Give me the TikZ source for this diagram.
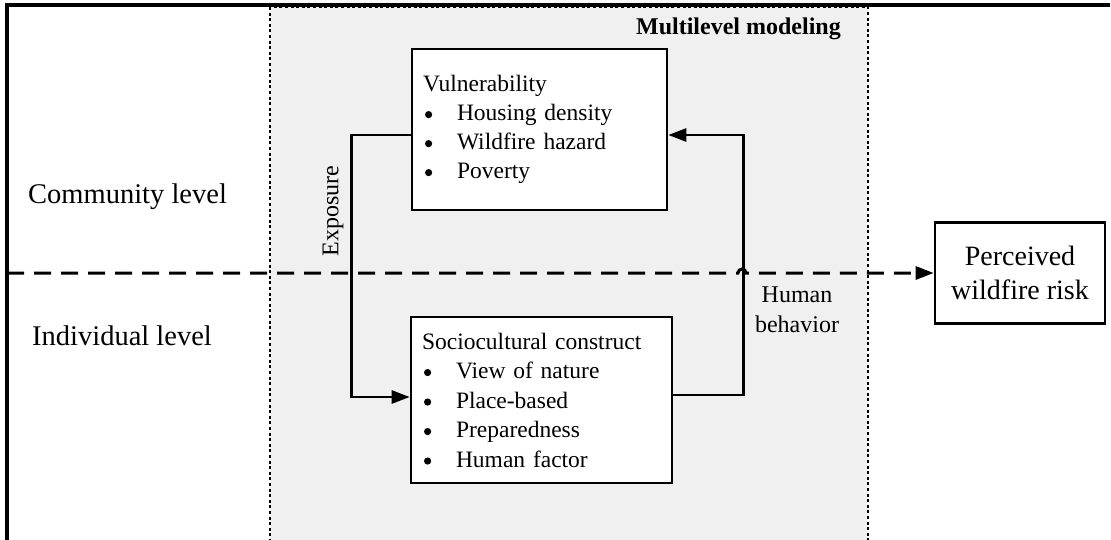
\documentclass[tikz,border=0pt]{standalone}
\usepackage{fontspec}
\setmainfont{Liberation Serif}
\usetikzlibrary{arrows.meta}
\definecolor{panel}{HTML}{F0F0F0}
\newcommand\itemdot{\makebox[34pt][l]{\hspace{2pt}\tikz[baseline=-6pt]\fill (0,0) circle (3.6pt);}}
\begin{document}
\begin{tikzpicture}[x=1pt,y=-1pt,
  boxnode/.style={draw=black, line width=2.6pt, fill=white, align=left, inner xsep=11pt, inner ysep=0pt},
  vulfont/.style={font=\fontsize{23.5}{29}\selectfont},
  socfont/.style={font=\fontsize{23.5}{29.5}\selectfont},
  conn/.style={line width=2.6pt},
  tip/.style={-{Triangle[length=18pt,width=13pt]}},
  lbl/.style={font=\fontsize{24}{30}\selectfont, inner sep=0pt},
  side/.style={font=\fontsize{28.5}{34}\selectfont, inner sep=0pt, anchor=west},
  dotbox/.style={fill=panel, line width=2.8pt, dash pattern=on 3pt off 2.6pt}]
\useasboundingbox (0,0) rectangle (1111,539);
\clip (0,0) rectangle (1111,539);
% multilevel modeling panel
\draw[dotbox] (270,7) rectangle (868,580);
% outer frame
\draw[line width=3.6pt, line join=miter] (7,580) -- (7,5) -- (1110,5);
% labels
\node[font=\bfseries\fontsize{24}{28}\selectfont, anchor=east, inner sep=0pt] (ml) at (841,29) {Multilevel modeling};
\node[side] (comm) at (28,197) {Community level};
\node[side] (indiv) at (32,336) {Individual level};
% boxes
\node[boxnode, vulfont, text width=233pt, minimum height=161pt] (vul) at (539.5,129.5)
  {Vulnerability\\ \itemdot Housing density\\ \itemdot Wildfire hazard\\ \itemdot Poverty};
\node[boxnode, socfont, text width=239pt, minimum height=166pt] (soc) at (541.5,400)
  {Sociocultural construct\\ \itemdot View of nature\\ \itemdot Place-based\\ \itemdot Preparedness\\ \itemdot Human factor};
\node[draw=black, line width=2.6pt, fill=white, minimum width=170pt, minimum height=101pt, align=center,
  font=\fontsize{28}{34}\selectfont] (per) at (1020,273) {Perceived\\wildfire risk};
% connector labels
\node[lbl, rotate=90] (expo) at (333,211) {Exposure};
\node[lbl, align=center] (hb) at (797,310) {Human\\behavior};
% connectors
\draw[conn, tip] ([yshift=-5.5pt]vul.west) -- ++(-59,0) |- ([yshift=3pt]soc.west);
\draw[conn, tip] ([yshift=5pt]soc.east) -- ++(70,0) |- ([yshift=-5.5pt]vul.east);
% level divider
\coordinate (dstart) at (7,273);
\coordinate (hop) at (738,273);
\draw[line width=3pt, dash pattern=on 17pt off 10pt, tip] (dstart) -- (hop)
  arc[start angle=180, end angle=360, radius=4] -- (per.west);
\end{tikzpicture}
\end{document}
